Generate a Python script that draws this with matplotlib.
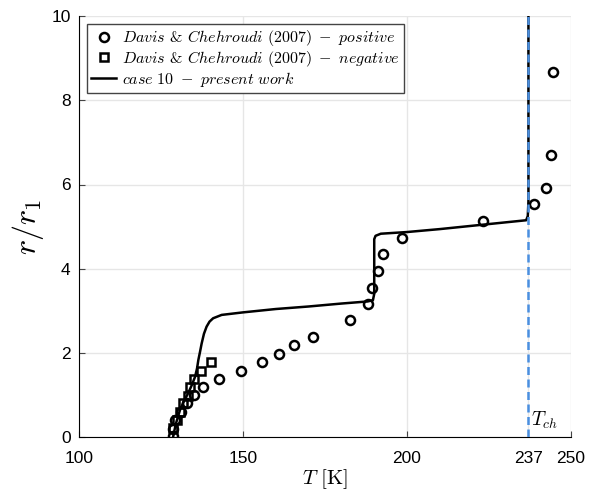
import numpy as np
import matplotlib
matplotlib.use("Agg")
from matplotlib import pyplot as plt

plt.rcParams['font.family'] = ['Liberation Sans', 'DejaVu Sans']
plt.rcParams['mathtext.fontset'] = 'cm'

# Davis & Chehroudi (2007) - positive
T_pos = [128.6, 128.6, 129.3, 131.0, 132.8, 135.2, 137.9, 142.7, 149.3, 155.7,
         160.9, 165.6, 171.2, 182.6, 188.1, 189.3, 191.2, 192.7, 198.5, 223.2,
         238.7, 242.4, 243.9, 244.5]
r_pos = [0.01, 0.19, 0.39, 0.60, 0.80, 0.99, 1.19, 1.38, 1.57, 1.78,
         1.98, 2.18, 2.38, 2.77, 3.16, 3.55, 3.94, 4.35, 4.73, 5.13,
         5.53, 5.91, 6.70, 8.67]

# Davis & Chehroudi (2007) - negative
T_neg = [128.8, 129.8, 130.8, 131.8, 133.1, 133.8, 135.2, 137.2, 140.4]
r_neg = [0.20, 0.40, 0.60, 0.80, 0.98, 1.18, 1.38, 1.57, 1.79]

# case 10 - present work
T_case = [128.7, 129.5, 130.8, 132.0, 133.3, 134.5, 135.4, 136.0, 136.4, 136.9,
          137.4, 138.1, 138.9, 139.8, 140.9, 143.5, 150.0, 160.0, 170.0, 180.0,
          188.0, 189.6, 190.0, 190.0, 190.4, 192.0, 200.0, 210.0, 220.0, 230.0,
          236.3, 236.8, 237.0, 237.0]
r_case = [0.00, 0.30, 0.64, 0.85, 1.04, 1.25, 1.43, 1.63, 1.83, 2.02,
          2.22, 2.45, 2.62, 2.74, 2.82, 2.90, 2.96, 3.04, 3.10, 3.17,
          3.22, 3.25, 3.40, 4.70, 4.78, 4.83, 4.87, 4.94, 5.02, 5.10,
          5.15, 5.25, 5.60, 10.0]

T_ch = 237
xticks = [100, 150, 200, 237, 250]
yticks = [0, 2, 4, 6, 8, 10]

fig = plt.figure(figsize=(5.98, 4.92), dpi=100)
ax = fig.add_axes([0.132, 0.112, 0.823, 0.855])

ax.plot(T_pos, r_pos, 'o', ms=6.5, mfc='none', mec='black', mew=1.8,
        label=r'$Davis$ & $Chehroudi\ (2007)\ -\ positive$', zorder=3)
ax.plot(T_neg, r_neg, 's', ms=5.5, mfc='none', mec='black', mew=1.8,
        label=r'$Davis$ & $Chehroudi\ (2007)\ -\ negative$', zorder=3)
ax.plot(T_case, r_case, '-', color='black', lw=1.8,
        label=r'$case\ 10\ -\ present\ work$', zorder=4)
ax.axvline(T_ch, color='#4a8fe0', lw=1.8, ls=(0, (3.2, 1.8)), zorder=5)
ax.text(T_ch + 0.8, 0.15, r'$T_{ch}$', fontsize=14, ha='left', va='bottom')

ax.set_xlim(100, 250)
ax.set_ylim(0, 10)
ax.set_xticks(xticks)
ax.set_yticks(yticks)
ax.tick_params(direction='in', length=4, color='#444444', labelsize=12.5)
ax.tick_params(axis='x', pad=10)
ax.tick_params(axis='y', pad=6)
ax.grid(True, color='#e6e6e6', lw=1)
ax.set_axisbelow(True)
for s in ['top', 'right']:
    ax.spines[s].set_visible(False)

ax.set_xlabel(r'$T\ [\mathrm{K}]$', fontsize=15, labelpad=1)
ax.set_ylabel(r'$r/r_1$', fontsize=23)

leg = ax.legend(loc='upper left', prop={'family': 'cmr10', 'size': 11.5},
                frameon=True, fancybox=False, framealpha=1,
                edgecolor='#444444', handlelength=1.6, handletextpad=0.35,
                borderpad=0.25, labelspacing=0.05, borderaxespad=0.5)
leg.get_frame().set_linewidth(1.0)

fig.savefig('out.png', dpi=100)
